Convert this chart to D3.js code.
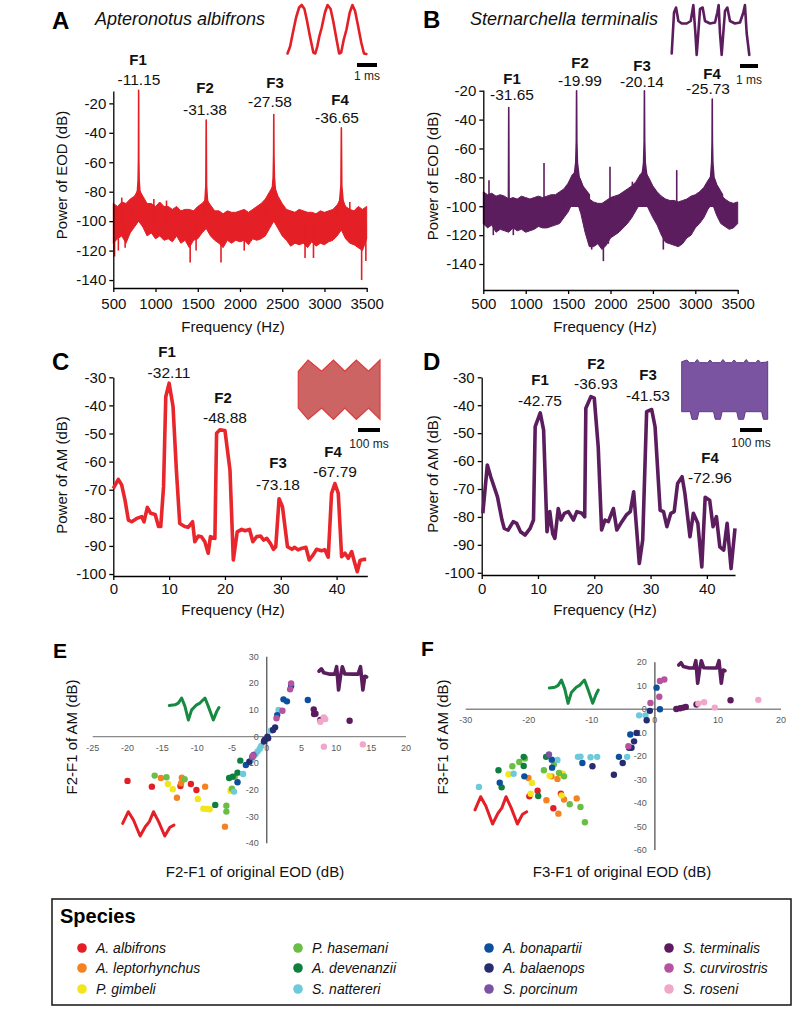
<!DOCTYPE html>
<html>
<head>
<meta charset="utf-8">
<script src="https://cdn.jsdelivr.net/npm/d3@7"></script>
<style>
  body { margin: 0; background: #fff; }
  svg { font-family: "Liberation Sans", Arial, sans-serif; }
  .ax path, .ax line { stroke: #000; stroke-width: 1.3; }
  .ax text { font-size: 15px; fill: #111; font-family: "Liberation Sans", Arial, sans-serif; }
  .sc text { font-size: 9px; fill: #595959; }
</style>
</head>
<body>
<svg id="fig" width="800" height="1011"></svg>
<script>
// ---------------- data ----------------
// EOD power spectra (A, B): noise band read as upper / lower envelope every 50 Hz
const eodFreq = [500,550,600,650,700,750,800,850,900,950,1000,1050,1100,1150,1200,1250,1300,1350,1400,1450,
  1500,1550,1600,1650,1700,1750,1800,1850,1900,1950,2000,2050,2100,2150,2200,2250,2300,2350,2400,2450,
  2500,2550,2600,2650,2700,2750,2800,2850,2900,2950,3000,3050,3100,3150,3200,3250,3300,3350,3400,3450,3500];

const aHigh = [-88,-90,-87,-88,-85,-83,-78,-83,-88,-88, -90,-87,-90,-90,-92,-90,-93,-92,-92,-93,
  -90,-88,-85,-89,-93,-93,-95,-93,-94,-94, -93,-92,-94,-92,-90,-88,-85,-80,-75,-83,
  -88,-92,-93,-94,-92,-93,-94,-94,-95,-93, -94,-93,-92,-89,-84,-90,-92,-93,-90,-92,-90];
const aLow = [-115,-112,-110,-115,-108,-104,-100,-104,-110,-108, -112,-110,-113,-112,-114,-110,-115,-113,-118,-113,
  -112,-108,-105,-110,-113,-115,-118,-113,-115,-113, -114,-113,-116,-112,-113,-112,-110,-105,-100,-105,
  -110,-113,-117,-115,-116,-115,-118,-114,-117,-115, -116,-114,-113,-110,-106,-112,-115,-116,-118,-120,-112];
const aSpikeFreq = [515,560,600,640,980,1130,1410,1480,1775,2050,2770,2870,3300,3440,3490];
const aSpikeVal  = [-124,-120,-84,-118,-85,-86,-128,-120,-128,-120,-125,-125,-87,-140,-127];
const aPeakF1 = [[730,-92],[765,-86],[785,-80],[794,-72],[798,-58],[800,-11.15],[802,-58],[806,-72],[815,-80],[835,-86],[870,-92]];
const aPeakF2 = [[1560,-92],[1585,-86],[1596,-76],[1600,-31.38],[1604,-76],[1615,-86],[1640,-92]];
const aPeakF3 = [[2300,-90],[2350,-85],[2380,-80],[2393,-70],[2398,-55],[2400,-27.58],[2402,-55],[2407,-70],[2420,-80],[2450,-85],[2500,-90]];
const aPeakF4 = [[3150,-92],[3180,-86],[3195,-76],[3200,-36.65],[3205,-76],[3220,-86],[3250,-92]];

const bHigh = [-90,-92,-91,-93,-92,-93,-95,-94,-95,-93, -94,-95,-94,-93,-94,-93,-92,-92,-90,-88,
  -84,-78,-76,-82,-90,-95,-97,-98,-98,-96, -94,-93,-92,-90,-88,-86,-83,-78,-75,-80,
  -86,-90,-93,-95,-96,-96,-97,-96,-95,-93, -92,-90,-87,-82,-78,-85,-92,-95,-97,-98,-97];
const bLow = [-112,-115,-113,-118,-116,-117,-118,-115,-117,-116, -118,-117,-116,-114,-115,-115,-114,-113,-112,-108,
  -104,-98,-96,-105,-118,-128,-128,-126,-130,-127, -122,-120,-118,-115,-112,-108,-103,-98,-96,-102,
  -108,-113,-120,-125,-126,-127,-128,-126,-122,-120, -115,-112,-108,-102,-98,-106,-112,-114,-116,-115,-112];
const bSpikeFreq = [567,618,854,1216,1778,1916,1975,1994,2258,2623,2781];
const bSpikeVal  = [-82,-120,-120,-70,-130,-138,-126,-72.6,-83,-130,-75];
const bPeakF1 = [[796,-100],[800,-31.65],[804,-100]];
const bPeakF2 = [[1450,-92],[1530,-86],[1570,-80],[1590,-70],[1597,-55],[1600,-19.99],[1603,-55],[1610,-70],[1630,-80],[1670,-86],[1750,-92]];
const bPeakF3 = [[2250,-90],[2330,-85],[2370,-80],[2390,-70],[2397,-55],[2400,-20.14],[2403,-55],[2410,-70],[2430,-80],[2470,-85],[2550,-92]];
const bPeakF4 = [[3080,-90],[3150,-85],[3180,-80],[3193,-70],[3198,-55],[3200,-25.73],[3202,-55],[3207,-70],[3220,-80],[3250,-85],[3320,-92]];

// AM power spectra (C, D)
const cFreq = [0,0.9,1.5,2.1,2.7,3.3,4.2,5.1,5.5,6.1, 6.7,7.5,8.1,8.5,9.0,9.4,10.0,10.7,11.3,11.9,
  12.8,13.4,14.2,14.6,15.2,15.8,16.4,17.0,17.4,18.2, 18.5,19.1,20.0,20.9,21.5,22.2,23.0,23.6,24.4,25.0,
  25.7,26.4,26.9,27.5,28.2,28.7,29.1,29.7,30.3,31.2, 32.0,32.5,33.1,33.7,34.5,35.1,35.8,36.4,37.3,37.9,
  38.5,39.1,39.7,40.3,40.9,41.5,42.1,42.7,43.1,43.7, 44.2,44.8,45.3];
const cPow = [-69.5,-66.3,-68.3,-73.7,-80.8,-81.4,-80.2,-79.6,-81.4,-76.3, -78.4,-78.8,-83.1,-83.1,-68.9,-36.9,-32.1,-40.4,-63,-82,
  -83.1,-83.4,-81.4,-88.5,-86.5,-86.7,-88.5,-92.6,-86.7,-87.3, -49.9,-48.7,-48.9,-63,-95,-85,-84.1,-84.6,-84.1,-88.5,
  -86.7,-86.5,-87.9,-87.3,-89.3,-91.2,-90.3,-73.2,-76,-90.3, -91.2,-90.5,-91.4,-90.9,-90.5,-95,-93.2,-91.2,-91.7,-91.4,
  -94,-71.3,-67.8,-71.3,-93.8,-92.6,-94.4,-92,-95,-99.2, -95.2,-94.8,-94.8];
const dFreq = [0.2,1.0,1.6,2.2,2.8,3.6,4.0,4.7,5.6,6.2, 6.9,7.7,8.6,9.2,9.5,10.4,11.0,11.6,12.1,12.6,
  13.0,13.6,14.1,14.7,15.4,16.3,16.9,17.8,18.3,18.5, 19.4,20.0,20.7,21.3,21.9,22.5,23.4,24.0,24.9,25.7,
  26.4,27.0,28.0,28.6,29.3,30.2,30.8,31.7,32.3,32.9, 33.6,34.2,34.8,35.6,36.1,37.0,37.6,38.4,39.1,39.7,
  40.5,41.1,41.7,42.3,43.0,43.6,44.3,45.0];
const dPow = [-78.7,-61.4,-65.6,-69.2,-72.8,-81.1,-84.1,-84.7,-81.7,-82.3, -85.3,-86.5,-84.1,-81.1,-47.7,-42.75,-48.9,-85.3,-78.1,-85.9,
  -87.7,-77,-81.1,-78.7,-78.1,-81.1,-78.1,-78.7,-80,-41.1, -36.93,-37.5,-54.9,-84.7,-81.1,-81.7,-77,-84.7,-81.7,-79.3,
  -78.1,-71,-96.7,-88.3,-42.3,-41.53,-47.7,-77.6,-78.1,-83.5, -78.7,-78.1,-68,-65.6,-71.6,-87.1,-78.7,-82.3,-97.9,-72.96,
  -74,-83.5,-79.9,-90.7,-91.9,-82.3,-98.5,-84.1];

// harmonic annotations
const peakNames = ["F1","F2","F3","F4"];
const aPeakVals = ["-11.15","-31.38","-27.58","-36.65"];
const bPeakVals = ["-31.65","-19.99","-20.14","-25.73"];
const cPeakVals = ["-32.11","-48.88","-73.18","-67.79"];
const dPeakVals = ["-42.75","-36.93","-41.53","-72.96"];

// ticks
const eodFreqTicks = [500,1000,1500,2000,2500,3000,3500];
const eodPowTicks = [-20,-40,-60,-80,-100,-120,-140];
const amFreqTicks = [0,10,20,30,40];
const amPowTicks = [-30,-40,-50,-60,-70,-80,-90,-100];
const eXTicks = [-25,-20,-15,-10,-5,0,5,10,15,20];
const eYTicks = [30,20,10,0,-10,-20,-30,-40];
const fXTicks = [-30,-20,-10,0,10,20];
const fYTicks = [20,10,0,-10,-20,-30,-40,-50,-60];

// species
const species = ["A. albifrons","A. leptorhynchus","P. gimbeli","P. hasemani","A. devenanzii","S. nattereri",
  "A. bonapartii","A. balaenops","S. porcinum","S. terminalis","S. curvirostris","S. roseni"];
const speciesColors = ["#e31e24","#f58220","#f2e51b","#6abd45","#0f7f3f","#6dcadb",
  "#0d4f9c","#272b6f","#7c52a2","#5b1b5e","#b6529f","#f1a7c9"];

// E: [species index, F2-F1 of EOD, F2-F1 of AM]
const ePoints = [
  [0,-20.0,-16.6],[0,-16.5,-18.75],[0,-12.4,-18.5],[0,-10.9,-17.75],[0,-10.1,-20],
  [1,-15.2,-15.5],[1,-12.2,-15.4],[1,-12.3,-17.5],[1,-12.9,-22.9],[1,-8.85,-18.75],[1,-6.0,-33.75],
  [2,-14.2,-17.75],[2,-13.5,-19.75],[2,-9.9,-23.4],[2,-9.1,-27],[2,-8.6,-27.1],[2,-8.2,-27.25],[2,-5.2,-20.25],
  [3,-16.1,-14.6],[3,-14.4,-15.25],[3,-11.8,-16],[3,-5.8,-25.9],[3,-5.8,-28.1],[3,-5.0,-19.5],[3,-4.6,-15],
  [4,-7.4,-25.6],[4,-5.4,-15.5],[4,-3.8,-9],[4,-4.2,-13.5],[4,-4.9,-15],
  [5,-4.7,-20.6],[5,-3.4,-14],[5,-2.2,-8.75],[5,-1.9,-7.5],[5,-1.6,-6.5],[5,-1.3,-5.5],[5,-1.0,-4.5],[5,-0.8,-3.5],[5,0.6,2.25],[5,1.7,10],
  [6,-4.2,-17.1],[6,-3.0,-10.6],[6,1.5,8.1],[6,2.4,14],[6,2.9,13.25],[6,3.5,19],[6,5.9,13.75],
  [7,-2.5,-9.4],[7,-0.3,-1.25],[7,0.1,0],[7,1.2,3.5],[7,0.9,2.5],[7,-0.4,-1.8],[7,0.2,-0.6],
  [8,-1.9,-6.9],[8,-2.1,-7.6],
  [9,6.75,10.25],[9,6.8,8.5],[9,7.0,8.6],[9,7.7,6.25],[9,11.9,6],
  [10,3.5,20],[10,3.35,17.75],[10,2.25,9.75],[10,1.4,6.9],[10,-2.0,-7.2],
  [11,7.7,5.6],[11,8.2,7.25],[11,8.4,6.6],[11,8.2,-3.75],[11,13.8,-2.9]
];
// F: [species index, F3-F1 of EOD, F3-F1 of AM]
const fPoints = [
  [0,-19.9,-37.1],[0,-18.6,-34.7],[0,-16.1,-42.2],[0,-14.9,-36],
  [1,-20.05,-29.3],[1,-17.2,-38.8],[1,-16.4,-28.6],[1,-15.45,-29.7],[1,-15.3,-44.5],[1,-14.4,-38.5],[1,-12.4,-38],
  [2,-23.2,-27.7],[2,-19.5,-31.4],[2,-19.7,-36],[2,-16.7,-28.4],[2,-14.8,-27.9],[2,-14.6,-27.5],[2,-14.8,-36.7],
  [3,-22.6,-24.3],[3,-21.5,-22.5],[3,-20.6,-21],[3,-17.6,-26],[3,-16.0,-23.5],[3,-15.2,-27.2],[3,-14.4,-28.6],[3,-13.5,-40.5],[3,-11.8,-41.7],[3,-11.1,-48.2],
  [4,-24.8,-26],[4,-24.3,-33.3],[4,-20.8,-20.3],[4,-20.8,-24.2],[4,-18.5,-37],[4,-17.25,-20.3],
  [5,-27.9,-33.1],[5,-22.4,-27.5],[5,-15.45,-21.6],[5,-12.2,-20.3],[5,-11.8,-20.2],[5,-10.2,-20.5],[5,-9.15,-20.3],[5,-4.4,-20.3],[5,-2.5,-2.6],[5,-1.5,-2.6],
  [6,-24.6,-31.3],[6,-20.7,-28.6],[6,-16.35,-21.5],[6,-16.3,-24.9],[6,-11.5,-22.9],[6,-5.7,-20.3],[6,-3.9,-10.8],[6,0.26,9.2],[6,0.8,0],
  [7,-9.9,-24.3],[7,-6.5,-27.9],[7,-5.1,-22.9],[7,-3.3,-13.7],[7,-2.9,-10.1],[7,-3.7,-16.4],[7,-4.1,-16.4],[7,-1.3,-4.7],[7,-0.8,-0.7],
  [8,-16.8,-19.3],
  [9,3.4,0.1],[9,4.0,0.4],[9,4.5,0.7],[9,4.9,1],[9,6.6,2],[9,12.0,3.8],
  [10,-4.2,-15.8],[10,-0.7,2.7],[10,0.7,5.3],[10,0.8,12],[10,1.5,12.7],
  [11,6.9,2.4],[11,7.8,3],[11,9.5,0.7],[11,16.4,4]
];

// inset traces [time fraction, normalised amplitude]
const albifronsEOD = [[0,0.03],[0.033,0.17],[0.067,0.44],[0.108,0.75],[0.146,0.95],[0.179,1.0],[0.213,0.92],[0.242,0.71],[0.283,0.37],[0.325,0.05],
  [0.35,0.03],[0.375,0.17],[0.4,0.37],[0.429,0.54],[0.471,0.85],[0.504,1.0],[0.542,0.92],[0.575,0.68],[0.617,0.31],[0.65,0.03],
  [0.675,0.05],[0.708,0.31],[0.742,0.51],[0.783,0.85],[0.817,1.0],[0.85,0.88],[0.888,0.58],[0.929,0.24],[0.962,0.03],[0.992,0.02]];
const terminalisEOD = [[0,0.03],[0.03,0.85],[0.056,0.95],[0.086,0.68],[0.129,0.63],[0.193,0.63],[0.245,0.68],[0.279,1.0],[0.305,0.44],[0.322,0],
  [0.343,0.44],[0.365,0.92],[0.399,0.95],[0.429,0.68],[0.494,0.63],[0.558,0.65],[0.588,0.85],[0.605,1.0],[0.622,0.44],[0.644,0],
  [0.665,0.44],[0.687,0.88],[0.717,0.95],[0.751,0.68],[0.815,0.63],[0.88,0.65],[0.923,0.85],[0.944,1.0],[0.966,0.44],[1,0]];
const albifronsAM = [[0,0.62],[0.12,1],[0.285,0.62],[0.43,1],[0.57,0.62],[0.71,1],[0.86,0.62],[1,1]];
const terminalisAMTop = [[0,.5],[.06,.9],[.09,.3],[.15,.3],[.18,1],[.21,.3],[.3,.3],[.33,.9],[.36,.3],[.45,.3],[.48,1],[.51,.3],
  [.58,.3],[.61,.9],[.64,.3],[.72,.3],[.75,1],[.78,.3],[.86,.3],[.89,.9],[.92,.3],[.98,.4],[1,.6]];
const terminalisAMBottom = [[0,0],[.1,0],[.12,1],[.18,1],[.2,0],[.37,0],[.39,1],[.45,1],[.47,0],[.64,0],[.66,1],[.72,1],[.74,0],[.93,0],[.95,1],[1,1]];
const greenWave = [[0,0.66],[0.114,0.69],[0.181,0.77],[0.248,1.0],[0.315,0.62],[0.383,0],[0.45,0.46],[0.55,0.69],[0.617,0.77],[0.718,1.0],[0.785,0.62],[0.886,0],[0.953,0.38],[1,0.57]];
const redWave = [[0,0.52],[0.11,1.0],[0.21,0.66],[0.34,0],[0.44,0.38],[0.52,0.59],[0.6,1.0],[0.7,0.59],[0.82,0],[0.92,0.36],[1,0.45]];
const purpleWave = [[0,0.81],[0.05,0.91],[0.1,0.74],[0.23,0.68],[0.33,0.68],[0.37,1.0],[0.41,0],[0.45,0.59],[0.49,1.0],[0.54,0.69],[0.72,0.68],[0.82,0.68],[0.87,1.0],[0.92,0],[0.96,0.59],[1,0.56]];

// ---------------- drawing ----------------
const svg = d3.select("#fig");
const red = "#e41f26", plum = "#5c1d5e";

function txt(x, y, s, o) {
  o = o || {};
  return svg.append("text").attr("x", x).attr("y", y).text(s)
    .attr("font-size", o.size || 15)
    .attr("font-weight", o.bold ? "bold" : null)
    .attr("font-style", o.italic ? "italic" : null)
    .attr("text-anchor", o.anchor || "middle")
    .attr("fill", o.fill || "#111");
}
function vtxt(x, y, s, size) {
  return svg.append("text").attr("transform", `translate(${x},${y}) rotate(-90)`)
    .attr("text-anchor", "middle").attr("font-size", size || 15).attr("fill", "#111").text(s);
}

// plain hyphen-minus and no thousands separator, like the original figure
const plain = d => String(d);

function axes(x, y, xTicks, yTicks, xPad) {
  const x0 = x.range()[0], yb = y.range()[0];
  svg.append("g").attr("class", "ax").attr("transform", `translate(0,${yb})`)
    .call(d3.axisBottom(x).tickValues(xTicks).tickFormat(plain).tickSize(4).tickSizeOuter(0).tickPadding(xPad));
  svg.append("g").attr("class", "ax").attr("transform", `translate(${x0},0)`)
    .call(d3.axisLeft(y).tickValues(yTicks).tickFormat(plain).tickSize(4).tickSizeOuter(0).tickPadding(3));
}

function eodPanel(x, y, hi, lo, spikeF, spikeV, peaks, col) {
  const band = d3.area().x((d, i) => x(eodFreq[i])).y0((d, i) => y(lo[i])).y1(d => y(d));
  svg.append("path").datum(hi).attr("d", band).attr("fill", col).attr("stroke", col).attr("stroke-width", 1);
  svg.append("g").selectAll("line").data(spikeF).join("line")
    .attr("x1", d => x(d)).attr("x2", d => x(d))
    .attr("y1", y(-103)).attr("y2", (d, i) => y(spikeV[i]))
    .attr("stroke", col).attr("stroke-width", 1.6);
  const pk = d3.area().x(d => x(d[0])).y0(y(-100)).y1(d => y(d[1]));
  peaks.forEach(p => svg.append("path").datum(p).attr("d", pk)
    .attr("fill", col).attr("stroke", col).attr("stroke-width", 1.6).attr("stroke-linejoin", "round"));
}

function wave(pts, x0, x1, yTop, yBot, col, w) {
  const tx = d3.scaleLinear().domain([0, 1]).range([x0, x1]);
  const ty = d3.scaleLinear().domain([0, 1]).range([yBot, yTop]);
  svg.append("path").datum(pts)
    .attr("d", d3.line().x(d => tx(d[0])).y(d => ty(d[1])))
    .attr("fill", "none").attr("stroke", col).attr("stroke-width", w)
    .attr("stroke-linejoin", "round").attr("stroke-linecap", "round");
}

function scaleBar(x0, x1, y, label, ly) {
  svg.append("rect").attr("x", x0).attr("y", y - 2).attr("width", x1 - x0).attr("height", 4).attr("fill", "#000");
  txt((x0 + x1) / 2, ly, label, { size: 12, fill: "#222" });
}

// ---- Panel A ----
const xA = d3.scaleLinear().domain([500, 3500]).range([113.3, 366.7]);
const yA = d3.scaleLinear().domain([-145.4, -11.6]).range([288, 91]);
eodPanel(xA, yA, aHigh, aLow, aSpikeFreq, aSpikeVal, [aPeakF1, aPeakF2, aPeakF3, aPeakF4], red);
axes(xA, yA, eodFreqTicks, eodPowTicks, 6);
txt(52, 29, "A", { size: 24, bold: true, anchor: "start", fill: "#000" });
txt(95, 25, "Apteronotus albifrons", { size: 18, italic: true, anchor: "start" });
wave(albifronsEOD, 287.5, 367, 5, 55, red, 2.6);
scaleBar(357, 377, 65, "1 ms", 80);
[[138, 65, 139, 85], [205, 93, 205, 115], [275, 88, 270, 107], [340, 105, 337, 123]].forEach((p, i) => {
  txt(p[0], p[1], peakNames[i], { bold: true });
  txt(p[2], p[3], aPeakVals[i], { size: 15.5 });
});
txt(233, 332, "Frequency (Hz)");
vtxt(67, 175, "Power of EOD (dB)");

// ---- Panel B ----
const xB = d3.scaleLinear().domain([500, 3500]).range([483.3, 737.7]);
const yB = d3.scaleLinear().domain([-158, -19.5]).range([290, 90]);
eodPanel(xB, yB, bHigh, bLow, bSpikeFreq, bSpikeVal, [bPeakF1, bPeakF2, bPeakF3, bPeakF4], plum);
axes(xB, yB, eodFreqTicks, eodPowTicks, 4);
txt(423, 28, "B", { size: 24, bold: true, anchor: "start", fill: "#000" });
txt(470, 25, "Sternarchella terminalis", { size: 18, italic: true, anchor: "start" });
wave(terminalisEOD, 671.7, 749.3, 5, 55, plum, 2.6);
scaleBar(740, 758, 66, "1 ms", 84);
[[512, 84, 512, 100], [580, 68, 580, 86], [642, 71, 642, 87], [712, 79, 708, 94]].forEach((p, i) => {
  txt(p[0], p[1], peakNames[i], { bold: true });
  txt(p[2], p[3], bPeakVals[i], { size: 15.5 });
});
txt(605, 332, "Frequency (Hz)");
vtxt(438, 176, "Power of EOD (dB)");

// ---- Panel C ----
const xC = d3.scaleLinear().domain([0, 45.5]).range([113.3, 367.3]);
const yC = d3.scaleLinear().domain([-100.7, -30]).range([576, 377.3]);
axes(xC, yC, amFreqTicks, amPowTicks, 3);
svg.append("path").datum(cPow)
  .attr("d", d3.line().x((d, i) => xC(cFreq[i])).y(d => yC(d)))
  .attr("fill", "none").attr("stroke", "#e8262b").attr("stroke-width", 3.6).attr("stroke-linejoin", "round");
txt(52, 370, "C", { size: 24, bold: true, anchor: "start", fill: "#000" });
{
  const tx = d3.scaleLinear().domain([0, 1]).range([298.3, 380]);
  const top = d3.scaleLinear().domain([0, 1]).range([389.7, 360]);
  const bot = d3.scaleLinear().domain([0, 1]).range([389.7, 419.3]);
  const pts = albifronsAM.map(d => [tx(d[0]), top(d[1])])
    .concat(albifronsAM.slice().reverse().map(d => [tx(d[0]), bot(d[1])]));
  svg.append("path").attr("d", d3.line()(pts) + "Z")
    .attr("fill", "#cc6464").attr("stroke", "#de3b3d").attr("stroke-width", 1.2);
}
scaleBar(358, 380, 430, "100 ms", 448);
[[167, 357, 169, 378], [223, 403, 225, 423], [278, 468, 278, 490], [333, 457, 335, 477]].forEach((p, i) => {
  txt(p[0], p[1], peakNames[i], { bold: true });
  txt(p[2], p[3], cPeakVals[i], { size: 15.5 });
});
txt(233, 615, "Frequency (Hz)");
vtxt(67, 475, "Power of AM (dB)");

// ---- Panel D ----
const xD = d3.scaleLinear().domain([0, 45]).range([481.7, 735]);
const yD = d3.scaleLinear().domain([-100.8, -30]).range([575, 377.3]);
axes(xD, yD, amFreqTicks, amPowTicks, 4);
svg.append("path").datum(dPow)
  .attr("d", d3.line().x((d, i) => xD(dFreq[i])).y(d => yD(d)))
  .attr("fill", "none").attr("stroke", plum).attr("stroke-width", 3.6).attr("stroke-linejoin", "round");
txt(423, 370, "D", { size: 24, bold: true, anchor: "start", fill: "#000" });
{
  const tx = d3.scaleLinear().domain([0, 1]).range([681.7, 767.7]);
  const top = d3.scaleLinear().domain([0, 1]).range([364, 359.5]);
  const bot = d3.scaleLinear().domain([0, 1]).range([411.7, 419.3]);
  const pts = terminalisAMTop.map(d => [tx(d[0]), top(d[1])])
    .concat(terminalisAMBottom.slice().reverse().map(d => [tx(d[0]), bot(d[1])]));
  svg.append("path").attr("d", d3.line()(pts) + "Z")
    .attr("fill", "#7b54a1").attr("stroke", "#603a86").attr("stroke-width", 1);
}
scaleBar(740, 762, 430, "100 ms", 447);
[[540, 385, 540, 406], [596, 369, 596, 389], [648, 380, 648, 401], [710, 463, 710, 483]].forEach((p, i) => {
  txt(p[0], p[1], peakNames[i], { bold: true });
  txt(p[2], p[3], dPeakVals[i], { size: 15.5 });
});
txt(605, 615, "Frequency (Hz)");
vtxt(438, 474, "Power of AM (dB)");

// ---- scatter panels E, F ----
function scatter(pts, x, y, xTicks, yTicks) {
  const g = svg.append("g").attr("class", "sc");
  const x0 = x(0), y0 = y(0);
  g.append("line").attr("x1", x.range()[0]).attr("x2", x.range()[1]).attr("y1", y0).attr("y2", y0)
    .attr("stroke", "#8a8a8a").attr("stroke-width", 1.3);
  g.append("line").attr("x1", x0).attr("x2", x0).attr("y1", y.range()[0]).attr("y2", y.range()[1])
    .attr("stroke", "#555").attr("stroke-width", 1.3);
  g.selectAll(".xt").data(xTicks).join("text").attr("class", "xt")
    .attr("x", d => x(d)).attr("y", y0 + 14).attr("text-anchor", "middle").text(d => d);
  g.selectAll(".yt").data(yTicks).join("text").attr("class", "yt")
    .attr("x", x0 - 8).attr("y", d => y(d) + 3).attr("text-anchor", "end").text(d => d);
  g.selectAll("circle").data(pts).join("circle")
    .attr("cx", d => x(d[1])).attr("cy", d => y(d[2])).attr("r", 3.2)
    .attr("fill", d => speciesColors[d[0]]);
}

const xE = d3.scaleLinear().domain([-25, 20]).range([92.7, 406]);
const yE = d3.scaleLinear().domain([-40, 30]).range([843.3, 656.7]);
scatter(ePoints, xE, yE, eXTicks, eYTicks);
wave(greenWave, 169.3, 219, 698, 720, "#168a40", 3);
wave(redWave, 122.7, 174, 811.7, 836, red, 3);
wave(purpleWave, 319, 366.7, 666.7, 690, plum, 3.6);
txt(53, 658, "E", { size: 21, bold: true, anchor: "start", fill: "#000" });
txt(255, 877, "F2-F1 of original EOD (dB)");
vtxt(77, 737, "F2-F1 of AM (dB)");

const xF = d3.scaleLinear().domain([-30, 20]).range([465.7, 781]);
const yF = d3.scaleLinear().domain([-60, 20]).range([850, 662.3]);
scatter(fPoints, xF, yF, fXTicks, fYTicks);
wave(greenWave, 549.3, 598.3, 680, 703.3, "#168a40", 3);
wave(redWave, 475, 526.7, 796.7, 824, red, 3);
wave(purpleWave, 678.7, 725, 660.7, 683.3, plum, 3.6);
txt(421, 656, "F", { size: 21, bold: true, anchor: "start", fill: "#000" });
txt(622, 877, "F3-F1 of original EOD (dB)");
vtxt(448, 737, "F3-F1 of AM (dB)");

// ---- legend ----
svg.append("rect").attr("x", 52).attr("y", 899).attr("width", 739).attr("height", 106)
  .attr("fill", "none").attr("stroke", "#222").attr("stroke-width", 1.6);
txt(60, 923, "Species", { size: 20, bold: true, anchor: "start", fill: "#000" });
const legCols = [82, 298, 489, 669], legRows = [948, 968, 989];
const leg = svg.append("g").selectAll("g").data(species).join("g")
  .attr("transform", (d, i) => `translate(${legCols[Math.floor(i / 3)]},${legRows[i % 3]})`);
leg.append("circle").attr("r", 4.8).attr("fill", (d, i) => speciesColors[i]);
leg.append("text").attr("x", 14).attr("y", 5).attr("font-size", 14).attr("font-style", "italic")
  .attr("fill", "#111").text(d => d);
</script>
</body>
</html>
